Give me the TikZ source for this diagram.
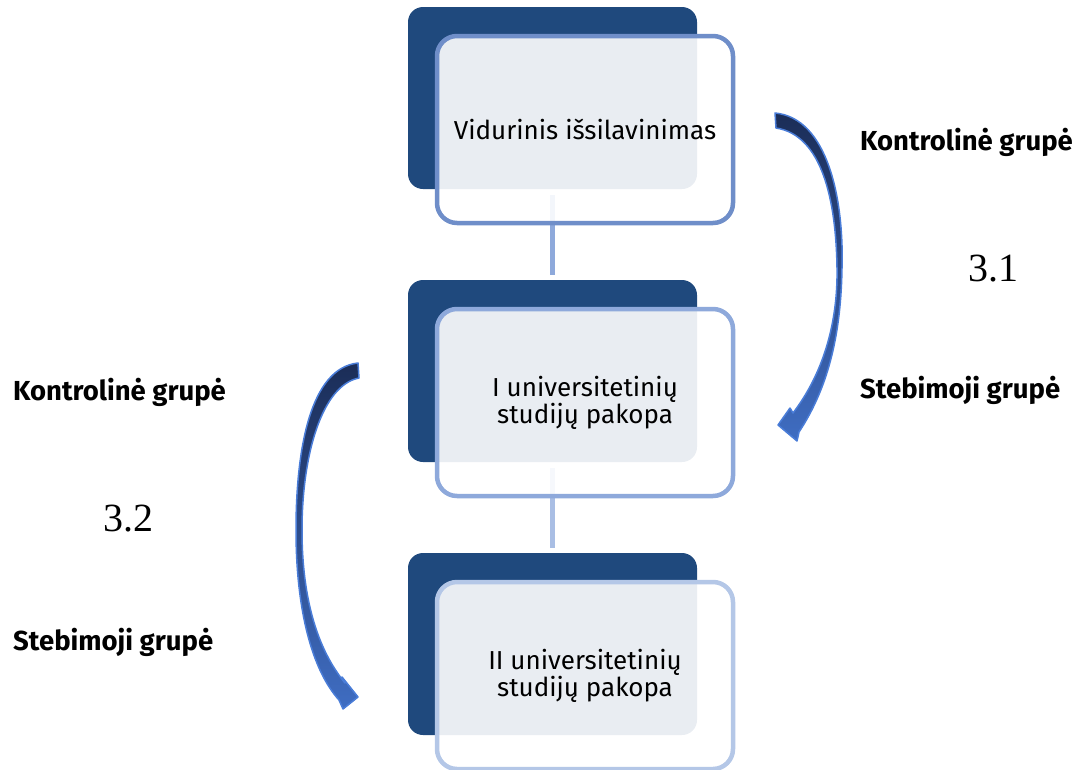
\documentclass[tikz,border=0pt]{standalone}
\usepackage{fontspec}
\setmainfont{Liberation Serif}
\newfontfamily\boxfont{Fira Sans}
\usetikzlibrary{positioning}
\definecolor{stepdark}{HTML}{1F497D}
\definecolor{edge1}{HTML}{6F8EC9}
\definecolor{edge2}{HTML}{8EA9DB}
\definecolor{edge3}{HTML}{B4C7E7}
\definecolor{link1}{HTML}{8EA9DB}
\definecolor{link2}{HTML}{A9BEE4}
\definecolor{bendtop}{HTML}{1B2D57}
\definecolor{bendbot}{HTML}{3F6DC2}
\definecolor{bendline}{HTML}{4A7DD8}

\begin{document}
\begin{tikzpicture}[x=1pt, y=-1pt,
    back/.style={rectangle, fill=stepdark, rounded corners=15pt, minimum width=289pt, minimum height=182pt, inner sep=0pt},
    front/.style={rectangle, fill=white, fill opacity=0.9, text opacity=1, line width=4.5pt, rounded corners=20pt, minimum width=296pt, minimum height=187pt, align=center, font=\boxfont\fontsize{26}{27}\selectfont},
    link/.style={line width=5pt, shorten <=6pt, shorten >=5pt},
    lbl/.style={anchor=base west, inner sep=0pt, font=\boxfont\bfseries\fontsize{27.5}{32}\selectfont},
    num/.style={anchor=base, inner sep=0pt, font=\fontsize{40}{48}\selectfont},
    bentarrow/.style={draw=bendline, line width=1.5pt, line join=round, top color=bendtop, bottom color=bendbot}
]
\useasboundingbox (0,0) rectangle (1079,769);

% back plates and links
\node[back] (b1) at (552.5,98) {};
\node[back] (b2) at (552.5,371) {};
\node[back] (b3) at (552.5,644) {};
\draw[link, color=link1] (b1.south) -- (b2.north);
\draw[link, color=link2] (b2.south) -- (b3.north);

\node[front, draw=edge1] (f1) at (585,129.5) {Vidurinis išsilavinimas};
\node[front, draw=edge2] (f2) at (585,402.5) {I universitetinių\\studijų pakopa};
\node[front, draw=edge3] (f3) at (585,675.5) {II universitetinių\\studijų pakopa};

% bent arrows
\path[bentarrow] (775,113) .. controls (828,118) and (844,200) .. (842,268)
  .. controls (841,330) and (830,385) .. (799,432)
  -- (797,441) -- (778,425) -- (790,408) -- (793,413)
  .. controls (822,375) and (838,325) .. (837,268)
  .. controls (836,200) and (822,135) .. (776,128) -- cycle;
\path[bentarrow] (358,363) .. controls (310,368) and (296,450) .. (296,530)
  .. controls (296,610) and (312,670) .. (339,700)
  -- (343,709) -- (358,697) -- (342,677) -- (345,683)
  .. controls (318,650) and (302,600) .. (302,530)
  .. controls (302,455) and (322,385) .. (359,378) -- cycle;

\node[lbl] (k1) at (860,150) {Kontrolinė grupė};
\node[lbl] (s1) at (860,398) {Stebimoji grupė};
\node[lbl] (k2) at (13,400) {Kontrolinė grupė};
\node[lbl] (s2) at (13,650) {Stebimoji grupė};
\node[num] (n1) at (993,281) {3.1};
\node[num] (n2) at (128,531) {3.2};
\end{tikzpicture}
\end{document}
